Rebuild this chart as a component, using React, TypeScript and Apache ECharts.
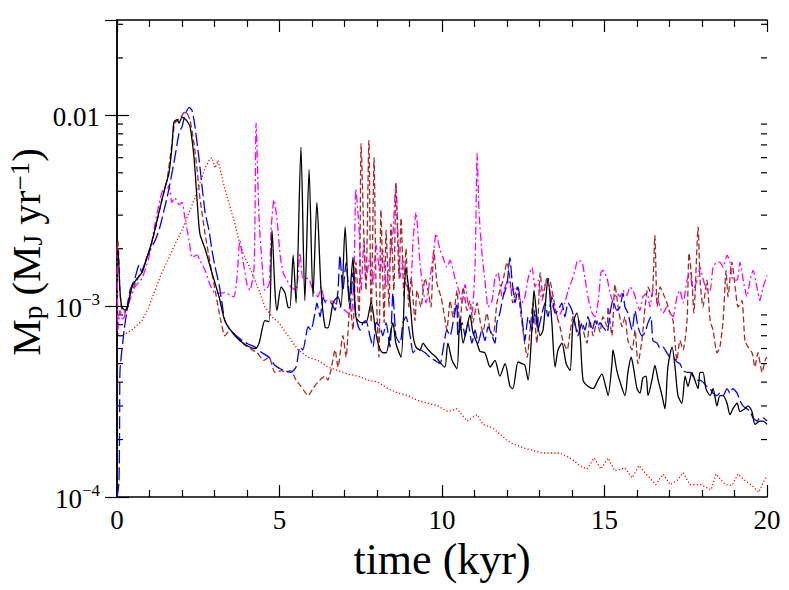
import React, { useEffect, useRef } from 'react';
import * as echarts from 'echarts';

// time axis (kyr)
const timeMin = 0;
const timeMax = 20;
const timeStep = 5;
// accretion-rate axis (M_J / yr), logarithmic
const rateMin = 1e-4;
const rateMax = 0.0316;
const rateMinorTicks = [2e-4, 3e-4, 4e-4, 5e-4, 6e-4, 7e-4, 8e-4, 9e-4, 2e-3, 3e-3, 4e-3, 5e-3, 6e-3, 7e-3, 8e-3, 9e-3, 0.02, 0.03];

const blackRun: [number, number][] = [
  [0, 0.00185], [0.03, 0.00197], [0.09, 0.00121], [0.15, 0.00099], [0.25, 0.00095], [0.34, 0.00102], [0.46, 0.00126], [0.62, 0.0014], [0.77, 0.0015], [0.92, 0.0018],
  [1.08, 0.0022], [1.29, 0.0031], [1.48, 0.0042], [1.6, 0.005], [1.69, 0.0068], [1.75, 0.0092], [1.85, 0.0095], [1.91, 0.0091], [2.0, 0.0098], [2.09, 0.0096],
  [2.18, 0.0092], [2.25, 0.0087], [2.37, 0.006], [2.46, 0.0037], [2.55, 0.0024], [2.71, 0.002], [2.92, 0.0015], [3.14, 0.00112], [3.32, 0.00084], [3.63, 0.0007],
  [3.94, 0.00063], [4.25, 0.0006], [4.37, 0.00064], [4.46, 0.00075], [4.55, 0.00084], [4.68, 0.00083], [4.77, 0.0025], [4.86, 0.00121], [4.92, 0.00095], [5.05, 0.00126],
  [5.17, 0.00117], [5.26, 0.00099], [5.32, 0.00098], [5.42, 0.00185], [5.51, 0.00104], [5.66, 0.0068], [5.78, 0.00107], [5.91, 0.0052], [6.03, 0.00112], [6.15, 0.0035],
  [6.28, 0.00121], [6.4, 0.00078], [6.49, 0.00077], [6.65, 0.00104], [6.8, 0.00112], [6.89, 0.00099], [7.02, 0.0026], [7.14, 0.00104], [7.26, 0.0018], [7.35, 0.00088],
  [7.51, 0.00082], [7.66, 0.00082], [7.82, 0.00105], [7.94, 0.00078], [8.03, 0.00064], [8.18, 0.00057], [8.28, 0.00057], [8.4, 0.0007], [8.49, 0.00082], [8.58, 0.00064],
  [8.74, 0.00054], [8.89, 0.0016], [9.02, 0.00104], [9.11, 0.0007], [9.2, 0.00061], [9.32, 0.00059], [9.42, 0.00064], [9.51, 0.00061], [9.66, 0.00057], [9.82, 0.00054],
  [9.97, 0.0005], [10.09, 0.00048], [10.18, 0.00064], [10.31, 0.00052], [10.46, 0.00047], [10.55, 0.00087], [10.65, 0.00064], [10.77, 0.00078], [10.86, 0.0009], [10.95, 0.00073],
  [11.08, 0.00064], [11.17, 0.00058], [11.32, 0.00057], [11.48, 0.00048], [11.63, 0.00052], [11.78, 0.00043], [11.94, 0.0005], [12.09, 0.00038], [12.18, 0.00037], [12.34, 0.00051],
  [12.46, 0.0005], [12.55, 0.00049], [12.65, 0.00041], [12.77, 0.00078], [12.83, 0.00121], [12.92, 0.00088], [13.02, 0.0007], [13.11, 0.00075], [13.2, 0.00112], [13.26, 0.0014],
  [13.38, 0.00082], [13.48, 0.00048], [13.57, 0.00059], [13.69, 0.00064], [13.82, 0.0005], [13.94, 0.00046], [14.03, 0.00082], [14.15, 0.00092], [14.25, 0.0007], [14.34, 0.00041],
  [14.49, 0.00038], [14.65, 0.00037], [14.8, 0.00041], [14.92, 0.00044], [15.02, 0.00039], [15.11, 0.00034], [15.23, 0.0005], [15.26, 0.00059], [15.38, 0.00046], [15.48, 0.0004],
  [15.63, 0.00034], [15.72, 0.00045], [15.82, 0.00054], [15.88, 0.00049], [16.0, 0.00037], [16.09, 0.00035], [16.18, 0.00042], [16.28, 0.00043], [16.34, 0.00034], [16.46, 0.00041],
  [16.55, 0.00049], [16.65, 0.00041], [16.77, 0.00034], [16.86, 0.00029], [16.95, 0.00048], [17.08, 0.00061], [17.17, 0.00048], [17.26, 0.00034], [17.38, 0.00031], [17.48, 0.00043],
  [17.57, 0.00038], [17.69, 0.00045], [17.78, 0.00041], [17.88, 0.00037], [17.94, 0.00045], [18.03, 0.00045], [18.12, 0.00037], [18.25, 0.00034], [18.34, 0.00037], [18.46, 0.0003],
  [18.55, 0.00034], [18.65, 0.00034], [18.77, 0.00031], [18.86, 0.00027], [18.95, 0.00029], [19.08, 0.00031], [19.17, 0.00028], [19.32, 0.00029], [19.42, 0.0003], [19.54, 0.00028],
  [19.63, 0.00024], [19.78, 0.00025], [19.88, 0.00025], [20, 0.00024],
];

const blueRun: [number, number][] = [
  [0, 0.0001], [0.06, 0.000119], [0.08, 0.00024], [0.09, 0.00045], [0.22, 0.00075], [0.31, 0.00095], [0.4, 0.00121], [0.55, 0.0014], [0.68, 0.00164], [0.77, 0.0015],
  [0.86, 0.0017], [1.02, 0.00197], [1.17, 0.0022], [1.32, 0.0026], [1.45, 0.0032], [1.54, 0.0037], [1.63, 0.0044], [1.78, 0.006], [1.91, 0.0081], [2.0, 0.0087],
  [2.09, 0.01], [2.22, 0.011], [2.31, 0.0106], [2.4, 0.0087], [2.52, 0.006], [2.62, 0.0042], [2.71, 0.0031], [2.83, 0.0025], [2.92, 0.00197], [3.02, 0.0016],
  [3.14, 0.0013], [3.23, 0.00104], [3.32, 0.00084], [3.48, 0.00075], [3.63, 0.00071], [3.85, 0.00066], [4.06, 0.00063], [4.25, 0.00061], [4.46, 0.00057], [4.68, 0.00054],
  [4.86, 0.00049], [5.02, 0.00047], [5.17, 0.00046], [5.35, 0.00045], [5.51, 0.00048], [5.63, 0.00061], [5.72, 0.00059], [5.88, 0.00078], [5.97, 0.00075], [6.09, 0.00092],
  [6.15, 0.00104], [6.25, 0.00088], [6.34, 0.00111], [6.43, 0.00104], [6.58, 0.00104], [6.71, 0.00095], [6.8, 0.00121], [6.86, 0.00185], [6.95, 0.00121], [7.05, 0.0017],
  [7.17, 0.00099], [7.26, 0.0015], [7.35, 0.00088], [7.48, 0.00075], [7.57, 0.00082], [7.66, 0.00084], [7.78, 0.0007], [7.88, 0.00061], [7.97, 0.00082], [8.09, 0.00078],
  [8.18, 0.0007], [8.28, 0.00082], [8.4, 0.00061], [8.49, 0.00117], [8.58, 0.0007], [8.71, 0.00064], [8.8, 0.00082], [8.89, 0.00088], [9.02, 0.0007], [9.11, 0.00057],
  [9.2, 0.00059], [9.32, 0.00059], [9.48, 0.00057], [9.63, 0.00054], [9.78, 0.00052], [9.94, 0.0005], [10.03, 0.00059], [10.15, 0.00075], [10.25, 0.0007], [10.34, 0.00082],
  [10.46, 0.00104], [10.49, 0.0007], [10.62, 0.00082], [10.71, 0.0007], [10.8, 0.00082], [10.92, 0.00064], [11.02, 0.00075], [11.11, 0.00064], [11.23, 0.00075], [11.32, 0.00066],
  [11.42, 0.00078], [11.54, 0.0007], [11.63, 0.00064], [11.69, 0.00082], [11.78, 0.00092], [11.88, 0.00112], [12.0, 0.0013], [12.09, 0.0018], [12.15, 0.0014], [12.25, 0.00104],
  [12.34, 0.00126], [12.46, 0.00088], [12.55, 0.00066], [12.65, 0.00088], [12.77, 0.00075], [12.86, 0.00095], [12.95, 0.00075], [13.08, 0.00092], [13.17, 0.00104], [13.26, 0.00088],
  [13.38, 0.00112], [13.48, 0.00092], [13.57, 0.00095], [13.69, 0.00104], [13.78, 0.00088], [13.88, 0.00104], [14.0, 0.00095], [14.09, 0.00082], [14.18, 0.0007], [14.31, 0.00082],
  [14.4, 0.00075], [14.49, 0.00088], [14.62, 0.00075], [14.71, 0.00084], [14.8, 0.00078], [14.86, 0.00082], [14.95, 0.00078], [15.08, 0.00073], [15.17, 0.00092], [15.26, 0.00107],
  [15.38, 0.00095], [15.48, 0.00099], [15.57, 0.00117], [15.63, 0.00099], [15.72, 0.00092], [15.85, 0.00075], [15.94, 0.00095], [16.03, 0.00078], [16.15, 0.0007], [16.25, 0.00073],
  [16.34, 0.00082], [16.43, 0.00088], [16.49, 0.00066], [16.62, 0.00064], [16.71, 0.0006], [16.8, 0.00061], [16.92, 0.00057], [17.02, 0.00054], [17.11, 0.00054], [17.23, 0.00051],
  [17.32, 0.0005], [17.42, 0.00046], [17.54, 0.00045], [17.63, 0.00045], [17.72, 0.00043], [17.85, 0.00041], [17.94, 0.00041], [18.03, 0.0004], [18.15, 0.00038], [18.25, 0.00037],
  [18.34, 0.00035], [18.46, 0.00034], [18.55, 0.00035], [18.65, 0.00034], [18.77, 0.00037], [18.86, 0.00035], [18.95, 0.00037], [19.08, 0.00035], [19.17, 0.00032], [19.26, 0.0003],
  [19.38, 0.00029], [19.48, 0.00028], [19.57, 0.00026], [19.69, 0.00025], [19.78, 0.00026], [19.88, 0.00026], [20, 0.00025],
];

const brownRun: [number, number][] = [
  [0, 0.00197], [0.03, 0.0022], [0.09, 0.00121], [0.15, 0.00095], [0.25, 0.00093], [0.37, 0.00112], [0.55, 0.0013], [0.77, 0.00154], [0.98, 0.0019], [1.17, 0.0025],
  [1.38, 0.0036], [1.54, 0.0046], [1.69, 0.0071], [1.78, 0.0091], [1.91, 0.0096], [2.0, 0.01], [2.09, 0.0104], [2.15, 0.0103], [2.25, 0.0094], [2.37, 0.0071],
  [2.46, 0.0053], [2.55, 0.0037], [2.71, 0.0024], [2.86, 0.0017], [3.02, 0.00121], [3.17, 0.00088], [3.32, 0.0007], [3.48, 0.00075], [3.69, 0.00069], [3.91, 0.00063],
  [4.09, 0.0006], [4.31, 0.00057], [4.52, 0.00052], [4.68, 0.00054], [4.86, 0.00045], [5.08, 0.00046], [5.17, 0.00045], [5.35, 0.00046], [5.51, 0.00041], [5.66, 0.00038],
  [5.88, 0.00034], [6.03, 0.00037], [6.18, 0.0004], [6.4, 0.00043], [6.49, 0.00041], [6.58, 0.00046], [6.71, 0.00059], [6.8, 0.00048], [6.95, 0.0007], [7.05, 0.00054],
  [7.17, 0.00104], [7.26, 0.00075], [7.35, 0.0017], [7.45, 0.00088], [7.51, 0.0071], [7.6, 0.0022], [7.66, 0.00121], [7.75, 0.0074], [7.82, 0.00082], [7.91, 0.006],
  [7.97, 0.0013], [8.06, 0.00054], [8.12, 0.0032], [8.22, 0.00082], [8.28, 0.0025], [8.37, 0.00099], [8.43, 0.0027], [8.52, 0.00121], [8.58, 0.0044], [8.68, 0.0014],
  [8.74, 0.0029], [8.83, 0.00112], [8.89, 0.002], [8.98, 0.00099], [9.05, 0.0014], [9.17, 0.00084], [9.23, 0.00121], [9.35, 0.00099], [9.48, 0.0014], [9.57, 0.00121],
  [9.66, 0.00099], [9.75, 0.00197], [9.85, 0.0013], [9.97, 0.00112], [10.06, 0.00092], [10.15, 0.00075], [10.25, 0.00107], [10.34, 0.00088], [10.46, 0.00121], [10.55, 0.00075],
  [10.65, 0.00126], [10.77, 0.00095], [10.86, 0.00107], [10.95, 0.00082], [11.08, 0.00104], [11.17, 0.00084], [11.26, 0.00073], [11.38, 0.00092], [11.48, 0.00075], [11.57, 0.0007],
  [11.69, 0.00104], [11.78, 0.00121], [11.88, 0.00137], [12.0, 0.0017], [12.09, 0.0014], [12.18, 0.00104], [12.31, 0.00126], [12.4, 0.00099], [12.49, 0.00075], [12.62, 0.00054],
  [12.71, 0.00075], [12.8, 0.00104], [12.92, 0.00064], [13.02, 0.0015], [13.11, 0.00112], [13.23, 0.0014], [13.32, 0.00137], [13.42, 0.00112], [13.54, 0.00088], [13.63, 0.00078],
  [13.72, 0.00066], [13.85, 0.00059], [13.94, 0.00073], [14.03, 0.00088], [14.15, 0.00073], [14.25, 0.00084], [14.34, 0.00075], [14.46, 0.00064], [14.55, 0.00084], [14.65, 0.0007],
  [14.77, 0.00084], [14.86, 0.00073], [14.95, 0.00088], [15.08, 0.00078], [15.11, 0.00099], [15.23, 0.0007], [15.32, 0.0013], [15.42, 0.00099], [15.54, 0.00078], [15.63, 0.00088],
  [15.72, 0.00066], [15.85, 0.00059], [15.94, 0.00075], [16.03, 0.0005], [16.15, 0.00066], [16.25, 0.00099], [16.34, 0.00126], [16.46, 0.00112], [16.55, 0.00235], [16.62, 0.00099],
  [16.71, 0.00126], [16.8, 0.00117], [16.92, 0.00104], [17.02, 0.00092], [17.11, 0.00084], [17.23, 0.00052], [17.32, 0.00066], [17.42, 0.00059], [17.54, 0.00084], [17.6, 0.0019],
  [17.69, 0.00137], [17.75, 0.00092], [17.88, 0.0026], [17.94, 0.00137], [18.03, 0.00099], [18.15, 0.00137], [18.25, 0.00084], [18.34, 0.00075], [18.46, 0.00057], [18.55, 0.00061],
  [18.65, 0.00084], [18.74, 0.00154], [18.8, 0.00112], [18.92, 0.0017], [19.02, 0.00126], [19.11, 0.00099], [19.23, 0.00107], [19.32, 0.00066], [19.42, 0.00061], [19.54, 0.00057],
  [19.63, 0.00048], [19.72, 0.00057], [19.85, 0.00045], [19.94, 0.00052], [20, 0.00054],
];

const redRun: [number, number][] = [
  [0, 0.00075], [0.06, 0.0007], [0.15, 0.0007], [0.46, 0.00075], [0.77, 0.00084], [0.98, 0.00099], [1.17, 0.00121], [1.38, 0.0015], [1.6, 0.0018], [1.78, 0.0021],
  [2.0, 0.0025], [2.22, 0.0031], [2.4, 0.0037], [2.55, 0.0044], [2.71, 0.0053], [2.83, 0.0058], [2.92, 0.006], [3.02, 0.0053], [3.11, 0.0058], [3.2, 0.005],
  [3.32, 0.0041], [3.48, 0.0033], [3.63, 0.0027], [3.78, 0.0021], [3.94, 0.0018], [4.15, 0.0015], [4.37, 0.00121], [4.55, 0.00099], [4.77, 0.00088], [4.98, 0.00082],
  [5.26, 0.0007], [5.57, 0.00059], [5.88, 0.00054], [6.18, 0.00052], [6.49, 0.00048], [6.8, 0.00046], [7.11, 0.00044], [7.42, 0.00043], [7.72, 0.00041], [8.03, 0.0004],
  [8.34, 0.00037], [8.65, 0.00035], [8.95, 0.00034], [9.26, 0.00032], [9.57, 0.00031], [9.88, 0.0003], [10.18, 0.00028], [10.46, 0.00029], [10.77, 0.00025], [11.08, 0.00027],
  [11.26, 0.00024], [11.57, 0.00023], [11.97, 0.0002], [12.18, 0.00019], [12.55, 0.00018], [13.08, 0.00017], [13.63, 0.00017], [13.94, 0.00016], [14.25, 0.000146], [14.46, 0.00014],
  [14.68, 0.00016], [14.89, 0.00014], [15.11, 0.00016], [15.32, 0.000137], [15.63, 0.000142], [15.85, 0.000126], [16.06, 0.000146], [16.28, 0.000132], [16.58, 0.000116], [16.8, 0.000132],
  [17.02, 0.000116], [17.23, 0.000122], [17.42, 0.000134], [17.63, 0.000116], [17.97, 0.000116], [18.28, 0.000109], [18.43, 0.000132], [18.71, 0.000116], [18.92, 0.000115], [19.11, 0.000132],
  [19.32, 0.000122], [19.54, 0.000115], [19.75, 0.000106], [19.88, 0.000119], [20, 0.000129],
];

const magentaRun: [number, number][] = [
  [0, 0.00197], [0.03, 0.00075], [0.09, 0.00095], [0.18, 0.00084], [0.28, 0.00095], [0.37, 0.00104], [0.55, 0.00126], [0.77, 0.0014], [0.98, 0.0018], [1.17, 0.0027],
  [1.32, 0.0036], [1.45, 0.0042], [1.54, 0.0041], [1.6, 0.0043], [1.69, 0.0035], [1.78, 0.0037], [1.91, 0.0034], [2.0, 0.0035], [2.09, 0.0029], [2.22, 0.0022],
  [2.31, 0.0018], [2.46, 0.00185], [2.55, 0.00174], [2.71, 0.00154], [2.86, 0.0013], [3.02, 0.00117], [3.17, 0.00117], [3.32, 0.00118], [3.48, 0.00114], [3.6, 0.00112],
  [3.69, 0.0014], [3.78, 0.0022], [3.91, 0.0016], [4.0, 0.0013], [4.09, 0.00121], [4.22, 0.0016], [4.28, 0.0091], [4.37, 0.0029], [4.46, 0.0017], [4.55, 0.00121],
  [4.68, 0.0013], [4.74, 0.0025], [4.83, 0.0036], [4.92, 0.0029], [5.02, 0.00185], [5.11, 0.0015], [5.2, 0.0014], [5.35, 0.00126], [5.51, 0.00121], [5.63, 0.0019],
  [5.72, 0.0014], [5.88, 0.0014], [6.03, 0.00121], [6.18, 0.00112], [6.28, 0.00126], [6.4, 0.00107], [6.55, 0.00107], [6.71, 0.00104], [6.86, 0.00099], [7.02, 0.00095],
  [7.11, 0.00092], [7.2, 0.00088], [7.29, 0.0014], [7.35, 0.0041], [7.45, 0.0025], [7.51, 0.00121], [7.6, 0.0022], [7.66, 0.00137], [7.78, 0.0018], [7.88, 0.0013],
  [7.97, 0.0021], [8.09, 0.0015], [8.18, 0.00197], [8.28, 0.00126], [8.4, 0.0018], [8.49, 0.0024], [8.58, 0.0044], [8.71, 0.0014], [8.8, 0.0018], [8.89, 0.0013],
  [9.02, 0.00121], [9.11, 0.0022], [9.2, 0.0031], [9.32, 0.0017], [9.42, 0.00121], [9.51, 0.00104], [9.63, 0.0014], [9.72, 0.0018], [9.82, 0.0024], [9.94, 0.00197],
  [10.03, 0.0018], [10.15, 0.0016], [10.25, 0.00174], [10.4, 0.0014], [10.49, 0.00126], [10.62, 0.00104], [10.71, 0.0013], [10.8, 0.00104], [10.92, 0.00092], [11.02, 0.0017],
  [11.08, 0.0063], [11.14, 0.0031], [11.23, 0.0019], [11.32, 0.00137], [11.42, 0.00099], [11.54, 0.00107], [11.63, 0.0014], [11.72, 0.0015], [11.85, 0.00112], [11.94, 0.00126],
  [12.03, 0.00137], [12.15, 0.00121], [12.25, 0.00126], [12.34, 0.00117], [12.46, 0.00104], [12.55, 0.00112], [12.65, 0.0014], [12.77, 0.0016], [12.86, 0.00126], [12.95, 0.00137],
  [13.08, 0.00107], [13.17, 0.0013], [13.26, 0.00137], [13.38, 0.00104], [13.48, 0.00092], [13.57, 0.00088], [13.69, 0.00095], [13.78, 0.00104], [13.88, 0.00121], [14.0, 0.00137],
  [14.09, 0.00154], [14.18, 0.00174], [14.31, 0.0017], [14.4, 0.0014], [14.49, 0.00112], [14.62, 0.00092], [14.71, 0.00088], [14.8, 0.00104], [14.89, 0.0015], [14.95, 0.00154],
  [15.08, 0.0014], [15.17, 0.00117], [15.26, 0.00107], [15.38, 0.00117], [15.48, 0.00112], [15.57, 0.00121], [15.69, 0.00114], [15.78, 0.00126], [15.88, 0.00121], [16.0, 0.00104],
  [16.09, 0.00095], [16.18, 0.00112], [16.31, 0.00117], [16.4, 0.00099], [16.49, 0.00121], [16.62, 0.00112], [16.71, 0.00099], [16.8, 0.00092], [16.92, 0.00099], [17.02, 0.00092],
  [17.11, 0.00088], [17.23, 0.00112], [17.32, 0.00121], [17.42, 0.00104], [17.54, 0.00137], [17.63, 0.0015], [17.72, 0.00121], [17.85, 0.00137], [17.94, 0.0016], [18.03, 0.0014],
  [18.15, 0.00121], [18.25, 0.00121], [18.34, 0.0016], [18.46, 0.0017], [18.55, 0.0017], [18.65, 0.0016], [18.77, 0.00185], [18.86, 0.0017], [18.95, 0.00137], [19.08, 0.00137],
  [19.17, 0.0017], [19.26, 0.0014], [19.38, 0.00112], [19.48, 0.00137], [19.57, 0.00154], [19.69, 0.00126], [19.78, 0.00107], [19.88, 0.00126], [20, 0.00145],
];

const FONT = 'Liberation Serif';

function rateLabel(v: number): string {
  const lg = Math.log10(v);
  const e = Math.round(lg);
  if (Math.abs(lg - e) > 0.01) return '';
  if (e === -2) return '{b|0.01}';
  return '{b|10}{s|\u2212' + String(-e) + '}';
}

export default function App() {
  const ref = useRef<HTMLDivElement | null>(null);

  useEffect(() => {
    if (!ref.current) return;
    const chart = echarts.init(ref.current, undefined, { renderer: 'svg' });

    const lineSeries = (name: string, data: [number, number][], color: string, dash: any, width: number, smooth: number | boolean) => ({
      name,
      type: 'line',
      data,
      showSymbol: false,
      symbol: 'none',
      smooth,
      clip: true,
      lineStyle: { color, width, type: dash },
      emphasis: { disabled: true },
    });

    const axisLineStyle = { show: true, lineStyle: { color: '#000', width: 1.5 } };
    const tickStyle = { color: '#000', width: 1.2 };

    chart.setOption({
      animation: false,
      backgroundColor: '#fff',
      grid: { left: 117, top: 20, right: 22, bottom: 93, containLabel: false },
      xAxis: [
        {
          type: 'value', min: timeMin, max: timeMax, interval: timeStep, position: 'bottom',
          axisLine: axisLineStyle,
          axisTick: { show: true, inside: true, length: 12, lineStyle: tickStyle },
          minorTick: { show: true, splitNumber: 5, length: 7, lineStyle: tickStyle },
          splitLine: { show: false },
          axisLabel: { show: true, margin: 9, color: '#000', fontFamily: FONT, fontSize: 27 },
          name: 'time (kyr)', nameLocation: 'middle', nameGap: 39,
          nameTextStyle: { color: '#000', fontFamily: FONT, fontSize: 44 },
        },
        {
          type: 'value', min: timeMin, max: timeMax, interval: timeStep, position: 'top',
          axisLine: axisLineStyle,
          axisTick: { show: true, inside: true, length: 12, lineStyle: tickStyle },
          minorTick: { show: true, splitNumber: 5, length: 7, lineStyle: tickStyle },
          splitLine: { show: false },
          axisLabel: { show: false },
        },
      ],
      yAxis: [
        {
          type: 'log', logBase: 10, min: rateMin, max: rateMax, position: 'left',
          axisLine: axisLineStyle,
          axisTick: { show: true, inside: true, length: 12, lineStyle: tickStyle },
          minorTick: { show: false },
          splitLine: { show: false },
          axisLabel: {
            show: true, margin: 17, color: '#000', showMaxLabel: false,
            formatter: rateLabel,
            rich: {
              b: { fontFamily: FONT, fontSize: 27, lineHeight: 30, verticalAlign: 'bottom', color: '#000' },
              s: { fontFamily: FONT, fontSize: 17, lineHeight: 17, verticalAlign: 'top', color: '#000' },
            },
          },
        },
        {
          type: 'log', logBase: 10, min: rateMin, max: rateMax, position: 'right',
          axisLine: axisLineStyle,
          axisTick: { show: true, inside: true, length: 12, lineStyle: tickStyle },
          minorTick: { show: false },
          splitLine: { show: false },
          axisLabel: { show: false },
        },
      ],
      graphic: [
        {
          type: 'text',
          x: 26,
          y: 252,
          rotation: Math.PI / 2,
          style: {
            text: '{m|M}{s|p}{m| (M}{s|J}{m| yr}{u|\u22121}{m|)}',
            align: 'center',
            verticalAlign: 'middle',
            fill: '#000',
            rich: {
              m: { fontFamily: FONT, fontSize: 41, lineHeight: 40, verticalAlign: 'middle', fill: '#000' },
              s: { fontFamily: FONT, fontSize: 27, lineHeight: 16, verticalAlign: 'bottom', fill: '#000' },
              u: { fontFamily: FONT, fontSize: 27, lineHeight: 25, verticalAlign: 'top', fill: '#000' },
            },
          },
        },
      ],
      series: [
        {
          name: 'minor ticks',
          type: 'custom',
          xAxisIndex: 0,
          yAxisIndex: 0,
          silent: true,
          clip: false,
          data: rateMinorTicks.map((v) => [timeMin, v]),
          encode: { x: 0, y: 1 },
          renderItem: (params: any, api: any) => {
            const v = api.value(1);
            const pl = api.coord([timeMin, v]);
            const pr = api.coord([timeMax, v]);
            const st = { stroke: '#000', lineWidth: 1.2 };
            return {
              type: 'group',
              children: [
                { type: 'line', shape: { x1: pl[0], y1: pl[1], x2: pl[0] + 6, y2: pl[1] }, style: st },
                { type: 'line', shape: { x1: pr[0] - 6, y1: pr[1], x2: pr[0], y2: pr[1] }, style: st },
              ],
            };
          },
        },
        lineSeries('red', redRun, '#ff0000', [1.2, 2.2], 1.3, false),
        lineSeries('magenta', magentaRun, '#ff00ff', [8, 3, 2, 3], 1.3, 0.2),
        lineSeries('brown', brownRun, '#a52a2a', [6, 3], 1.3, 0.2),
        lineSeries('blue', blueRun, '#0000ff', [13, 4], 1.3, 0.2),
        lineSeries('black', blackRun, '#000000', 'solid', 1.3, 0.25),
      ],
    });

    return () => {
      chart.dispose();
    };
  }, []);

  return (
    <div
      ref={ref}
      style={{ position: 'absolute', left: 0, top: 0, width: 789, height: 590, background: '#fff' }}
    />
  );
}
